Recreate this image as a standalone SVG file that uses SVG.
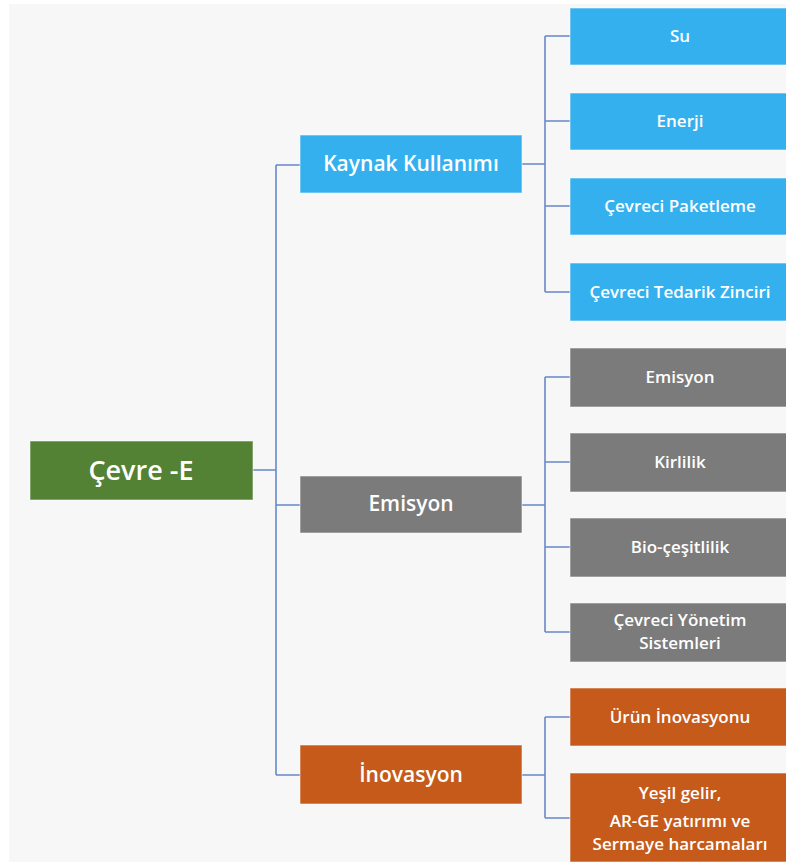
<svg xmlns="http://www.w3.org/2000/svg" width="786" height="867" viewBox="0 0 786 867">
<style>
.box{stroke:#ffffff;stroke-opacity:0.55;stroke-width:1}
.blue{fill:#35b0ef}
.gray{fill:#7b7b7b}
.orange{fill:#c55a1b}
.green{fill:#548235}
.t{font-family:"Open Sans","Liberation Sans",sans-serif;font-weight:600;fill:#ffffff;text-anchor:middle}
.t1{font-size:27px}
.t2{font-size:21px}
.t3{font-size:17px}
.c{fill:none;stroke:#4d74c2;stroke-width:1.6;stroke-opacity:0.85}
</style>
<rect x="0" y="0" width="786" height="867" fill="#ffffff"/>
<rect x="9" y="4" width="777" height="858" fill="#f7f7f7"/>
<g id="connectors">
<path class="c" d="M253,470 H276 M276,165 V775 M276,165 H300 M276,505 H300 M276,775 H300"/>
<path class="c" d="M522,164 H545 M545,36 V292 M545,36 H570 M545,121 H570 M545,206 H570 M545,292 H570"/>
<path class="c" d="M522,505 H545 M545,377 V632 M545,377 H570 M545,462 H570 M545,547 H570 M545,632 H570"/>
<path class="c" d="M522,775 H545 M545,717 V818 M545,717 H570 M545,818 H570"/>
</g>
<g id="root"><rect class="box green" x="30" y="441" width="223" height="59"/><text class="t t1" x="141" y="480">Çevre -E</text></g>
<g id="kaynak"><rect class="box blue" x="300" y="135" width="222" height="58"/><text class="t t2" x="411" y="171">Kaynak Kullanımı</text></g>
<g id="emisyon"><rect class="box gray" x="300" y="476" width="222" height="57"/><text class="t t2" x="411" y="511">Emisyon</text></g>
<g id="inovasyon"><rect class="box orange" x="300" y="745" width="222" height="59"/><text class="t t2" x="411" y="782">İnovasyon</text></g>
<g id="su"><rect class="box blue" x="570" y="8" width="220" height="57"/><text class="t t3" x="680" y="42">Su</text></g>
<g id="enerji"><rect class="box blue" x="570" y="93" width="220" height="57"/><text class="t t3" x="680" y="127">Enerji</text></g>
<g id="paketleme"><rect class="box blue" x="570" y="178" width="220" height="57"/><text class="t t3" x="680" y="212">Çevreci Paketleme</text></g>
<g id="tedarik"><rect class="box blue" x="570" y="263" width="220" height="58"/><text class="t t3" x="680" y="298">Çevreci Tedarik Zinciri</text></g>
<g id="emisyon2"><rect class="box gray" x="570" y="348" width="220" height="59"/><text class="t t3" x="680" y="383">Emisyon</text></g>
<g id="kirlilik"><rect class="box gray" x="570" y="433" width="220" height="59"/><text class="t t3" x="680" y="468">Kirlilik</text></g>
<g id="bio"><rect class="box gray" x="570" y="518" width="220" height="59"/><text class="t t3" x="680" y="553">Bio-çeşitlilik</text></g>
<g id="yonetim"><rect class="box gray" x="570" y="603" width="220" height="59"/><text class="t t3" x="680" y="626">Çevreci Yönetim</text><text class="t t3" x="680" y="649">Sistemleri</text></g>
<g id="urun"><rect class="box orange" x="570" y="688" width="220" height="58"/><text class="t t3" x="680" y="723">Ürün İnovasyonu</text></g>
<g id="yesil"><rect class="box orange" x="570" y="773" width="220" height="89"/><text class="t t3" x="680" y="799">Yeşil gelir,</text><text class="t t3" x="680" y="827">AR-GE yatırımı ve</text><text class="t t3" x="680" y="850">Sermaye harcamaları</text></g>
</svg>
